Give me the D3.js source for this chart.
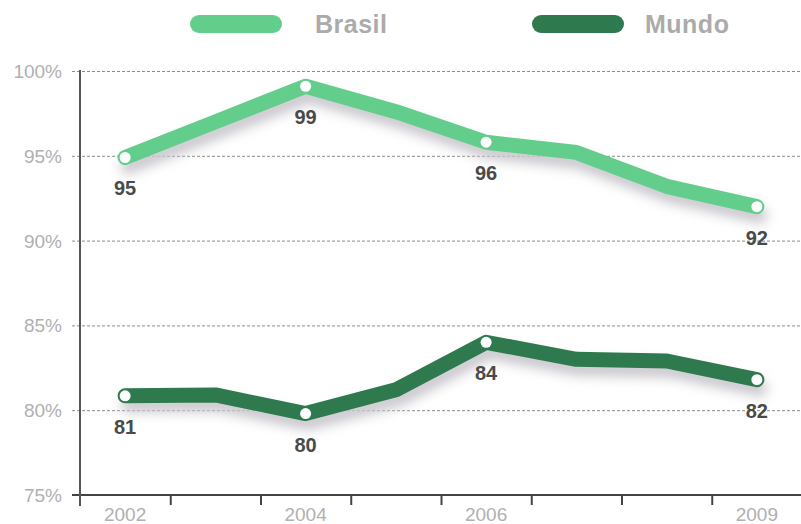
<!DOCTYPE html>
<html>
<head>
<meta charset="utf-8">
<script src="https://cdn.jsdelivr.net/npm/d3@7"></script>
<style>
  html, body { margin: 0; padding: 0; background: #fff; }
  svg { display: block; }
</style>
</head>
<body>
<div id="chart"></div>
<script>
const years = [2002, 2003, 2004, 2005, 2006, 2007, 2008, 2009];
const brasil = [94.9, 97.0, 99.1, 97.6, 95.8, 95.2, 93.2, 92.0];
const mundo = [80.85, 80.9, 79.8, 81.2, 84.0, 83.0, 82.9, 81.8];
const brasilLabels = [[2002, '95'], [2004, '99'], [2006, '96'], [2009, '92']];
const mundoLabels = [[2002, '81'], [2004, '80'], [2006, '84'], [2009, '82']];
const yTicks = [75, 80, 85, 90, 95, 100];
const xTickLabels = [2002, 2004, 2006, 2009];
const seriesNames = ['Brasil', 'Mundo'];
const seriesColors = ['#63cd8c', '#2e7a4e'];

const width = 801;
const height = 524;

const svg = d3.select('#chart')
              .append('svg')
              .attr('width', width)
              .attr('height', height);

const xScale = d3.scaleLinear()
                 .domain([2001.5, 2009.5])
                 .range([80, 802]);
const yScale = d3.scaleLinear()
                 .domain([75, 100])
                 .range([495, 71]);

// soft shadow under the lines
const defs = svg.append('defs');
const filt = defs.append('filter').attr('id', 'shadow')
                 .attr('x', '-10%').attr('y', '-30%').attr('width', '120%').attr('height', '160%');
filt.append('feGaussianBlur').attr('in', 'SourceGraphic').attr('stdDeviation', 6);

// dashed grid lines
svg.append('g')
   .selectAll('line')
   .data(yTicks.filter(d => d > 75))
   .enter()
   .append('line')
   .attr('x1', 72)
   .attr('x2', width)
   .attr('y1', d => yScale(d) + 0.5)
   .attr('y2', d => yScale(d) + 0.5)
   .attr('stroke', '#8a8a8a')
   .attr('stroke-width', 1)
   .attr('stroke-dasharray', '3,2');

// y tick labels
svg.append('g')
   .selectAll('text')
   .data(yTicks)
   .enter()
   .append('text')
   .attr('x', 62)
   .attr('y', d => yScale(d) + 7)
   .attr('text-anchor', 'end')
   .attr('font-family', 'Liberation Sans, Arial, sans-serif')
   .attr('font-size', 19)
   .attr('fill', '#b0b0b0')
   .text(d => d + '%');

// axes
const xAxis = d3.axisBottom(xScale)
                .tickValues(d3.range(2002.5, 2009, 1))
                .tickSize(10)
                .tickFormat('');
svg.append('g')
   .attr('transform', 'translate(0,495)')
   .call(xAxis)
   .call(g => g.select('.domain').remove())
   .call(g => g.selectAll('line').attr('stroke', '#444').attr('stroke-width', 2));

svg.append('line')
   .attr('x1', 72).attr('x2', width)
   .attr('y1', 495).attr('y2', 495)
   .attr('stroke', '#444').attr('stroke-width', 2);
svg.append('line')
   .attr('x1', 80).attr('x2', 80)
   .attr('y1', 70).attr('y2', 506)
   .attr('stroke', '#555').attr('stroke-width', 2);

// x labels
svg.append('g')
   .selectAll('text')
   .data(xTickLabels)
   .enter()
   .append('text')
   .attr('x', d => xScale(d))
   .attr('y', 521)
   .attr('text-anchor', 'middle')
   .attr('font-family', 'Liberation Sans, Arial, sans-serif')
   .attr('font-size', 19)
   .attr('fill', '#b0b0b0')
   .text(d => d);

const line = d3.line()
               .x((d, i) => xScale(years[i]))
               .y(d => yScale(d));

const series = [brasil, mundo];
const labels = [brasilLabels, mundoLabels];

series.forEach((values, k) => {
    svg.append('path')
       .datum(values)
       .attr('d', line)
       .attr('transform', 'translate(3,9)')
       .attr('fill', 'none')
       .attr('stroke', '#c8c6cc')
       .attr('stroke-width', 15)
       .attr('stroke-linecap', 'round')
       .attr('stroke-linejoin', 'round')
       .attr('filter', 'url(#shadow)');

    svg.append('path')
       .datum(values)
       .attr('d', line)
       .attr('fill', 'none')
       .attr('stroke', seriesColors[k])
       .attr('stroke-width', 15)
       .attr('stroke-linecap', 'round')
       .attr('stroke-linejoin', 'round');

    svg.append('g')
       .selectAll('circle')
       .data(labels[k])
       .enter()
       .append('circle')
       .attr('cx', d => xScale(d[0]))
       .attr('cy', d => yScale(values[years.indexOf(d[0])]))
       .attr('r', 5.5)
       .attr('fill', '#fff');

    svg.append('g')
       .selectAll('text')
       .data(labels[k])
       .enter()
       .append('text')
       .attr('x', d => xScale(d[0]))
       .attr('y', d => yScale(values[years.indexOf(d[0])]) + 38)
       .attr('text-anchor', 'middle')
       .attr('font-family', 'Liberation Sans, Arial, sans-serif')
       .attr('font-weight', 'bold')
       .attr('font-size', 20)
       .attr('fill', '#4a4a4a')
       .text(d => d[1]);
});

// legend
const legendX = [190, 532];
const legendTextX = [315, 645];
seriesNames.forEach((name, k) => {
    svg.append('rect')
       .attr('x', legendX[k])
       .attr('y', 15)
       .attr('width', 92)
       .attr('height', 18)
       .attr('rx', 9)
       .attr('fill', seriesColors[k]);
    svg.append('text')
       .attr('x', legendTextX[k])
       .attr('y', 33)
       .attr('font-family', 'Liberation Sans, Arial, sans-serif')
       .attr('font-weight', 'bold')
       .attr('font-size', 25)
       .attr('letter-spacing', 0.5)
       .attr('fill', '#ababab')
       .text(name);
});
</script>
</body>
</html>
